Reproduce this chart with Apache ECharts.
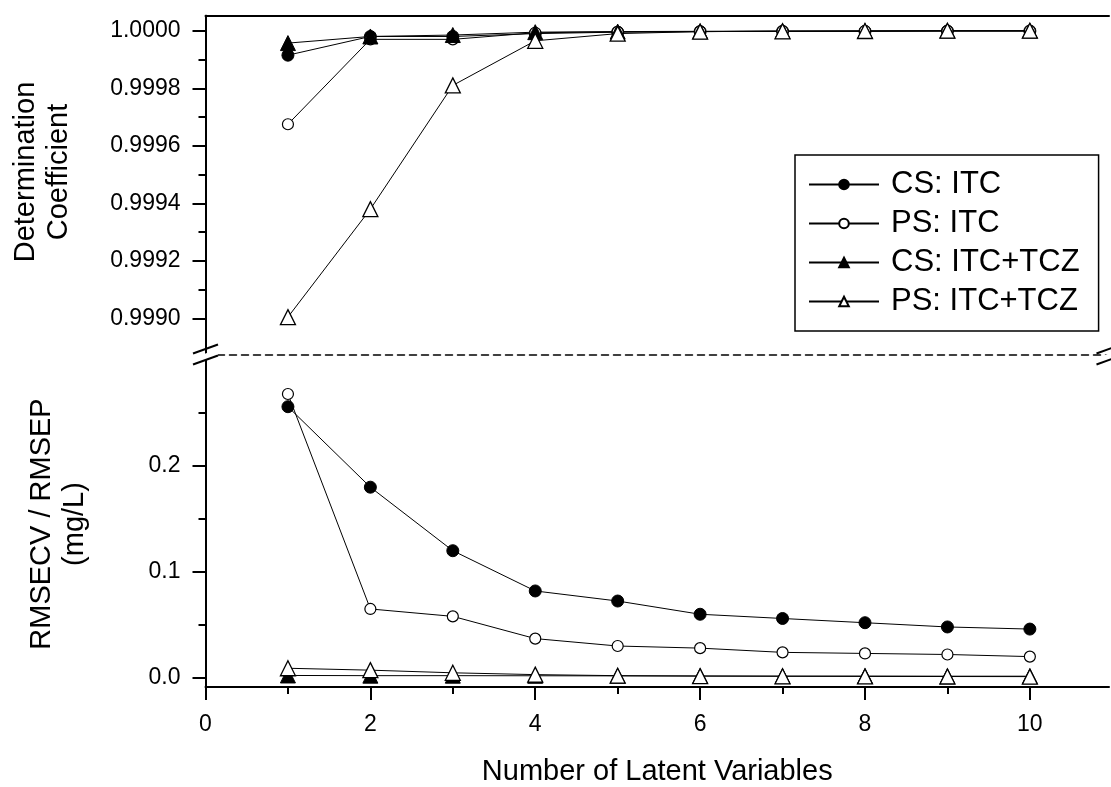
<!DOCTYPE html>
<html lang="en">
<head>
<meta charset="UTF-8">
<title>Latent variables</title>
<script src="https://cdn.jsdelivr.net/npm/echarts@6/dist/echarts.min.js"></script>
<style>
  html, body { margin: 0; padding: 0; background: #fff; }
  #main { width: 1111px; height: 787px; }
</style>
</head>
<body>
<div id="main"></div>
<script>
// number of latent variables
var latentVars = [1, 2, 3, 4, 5, 6, 7, 8, 9, 10];

// determination coefficient (top panel)
var r2CsItc    = [0.999915, 0.99998, 0.99998, 0.99999, 0.999995, 0.999997, 0.999998, 0.999998, 0.999999, 0.999999];
var r2PsItc    = [0.999675, 0.99997, 0.99997, 0.999993, 0.999996, 0.999997, 0.999998, 0.999999, 0.999999, 0.999999];
var r2CsItcTcz = [0.999957, 0.99998, 0.999985, 0.999995, 0.999997, 0.999998, 0.999999, 0.999999, 1.0, 1.0];
var r2PsItcTcz = [0.999005, 0.99938, 0.99981, 0.999965, 0.99999, 0.999997, 0.999998, 0.999999, 1.0, 1.0];

// RMSECV / RMSEP in mg/L (bottom panel)
var errCsItc    = [0.256, 0.180, 0.120, 0.082, 0.0725, 0.060, 0.056, 0.052, 0.048, 0.046];
var errPsItc    = [0.268, 0.065, 0.058, 0.037, 0.030, 0.028, 0.024, 0.023, 0.022, 0.020];
var errCsItcTcz = [0.0022, 0.0020, 0.0020, 0.0019, 0.0018, 0.0017, 0.0016, 0.0016, 0.0015, 0.0015];
var errPsItcTcz = [0.0090, 0.0072, 0.0047, 0.0030, 0.0020, 0.0016, 0.0014, 0.0013, 0.0012, 0.0011];

// ticks
var xMajor = [0, 2, 4, 6, 8, 10];
var xMinor = [1, 3, 5, 7, 9];
var r2Major = [0.9990, 0.9992, 0.9994, 0.9996, 0.9998, 1.0000];
var r2Minor = [0.9991, 0.9993, 0.9995, 0.9997, 0.9999];
var errMajor = [0.0, 0.1, 0.2];
var errMinor = [0.05, 0.15, 0.25];

var names = ['CS: ITC', 'PS: ITC', 'CS: ITC+TCZ', 'PS: ITC+TCZ'];

var FONT = "'Liberation Sans', Arial, sans-serif";
var L = 205.5, R = 1109, TOP = 15.7, MID = 354.5, BOT = 691;

function pairs(ys) {
  return latentVars.map(function (x, i) { return [x, ys[i]]; });
}

var markers = [
  { symbol: 'circle', symbolSize: 12, itemStyle: { color: '#000', borderColor: '#000', borderWidth: 1 } },
  { symbol: 'circle', symbolSize: 11, itemStyle: { color: '#fff', borderColor: '#000', borderWidth: 1.2 } },
  { symbol: 'triangle', symbolSize: 15, itemStyle: { color: '#000', borderColor: '#000', borderWidth: 1 } },
  { symbol: 'triangle', symbolSize: 15, itemStyle: { color: '#fff', borderColor: '#000', borderWidth: 1.3 } }
];

function makeSeries(name, idx, ys, xi, yi) {
  var m = markers[idx];
  return {
    name: name,
    type: 'line',
    xAxisIndex: xi,
    yAxisIndex: yi,
    data: pairs(ys),
    symbol: m.symbol,
    symbolSize: m.symbolSize,
    showAllSymbol: true,
    itemStyle: m.itemStyle,
    lineStyle: { color: '#000', width: 1 },
    emphasis: { disabled: true }
  };
}

var hidden = { show: false };
var solidLine = { show: true, lineStyle: { color: '#000', width: 2 } };
var tickFont = 23;

var option = {
  animation: false,
  backgroundColor: '#fff',
  textStyle: { fontFamily: FONT, color: '#000' },
  grid: [
    { left: L, right: 1111 - R, top: TOP, height: MID - TOP },
    { left: L, right: 1111 - R, top: MID, height: BOT - MID }
  ],
  xAxis: [
    // top panel: dashed bottom edge
    { gridIndex: 0, type: 'value', min: 0, max: 10.96, position: 'bottom',
      axisLine: { show: true, onZero: false, lineStyle: { color: '#000', width: 1.5, type: [7, 5] } },
      axisTick: hidden, axisLabel: hidden, splitLine: hidden },
    // top panel: top frame
    { gridIndex: 0, type: 'value', min: 0, max: 10.96, position: 'top',
      axisLine: { show: true, onZero: false, lineStyle: { color: '#000', width: 2 } },
      axisTick: hidden, axisLabel: hidden, splitLine: hidden },
    // bottom panel: main x axis
    { gridIndex: 1, type: 'value', min: 0, max: 10.96, position: 'bottom',
      name: 'Number of Latent Variables', nameLocation: 'middle', nameGap: 70,
      nameTextStyle: { fontSize: 29, fontFamily: FONT, color: '#000' },
      axisLine: { show: true, onZero: false, lineStyle: { color: '#000', width: 2 } },
      axisTick: { show: true, length: 13, lineStyle: { color: '#000', width: 2 }, customValues: xMajor },
      axisLabel: { show: true, margin: 26, fontSize: tickFont, fontFamily: FONT, color: '#000', customValues: xMajor },
      splitLine: hidden },
    { gridIndex: 1, type: 'value', min: 0, max: 10.96, position: 'bottom',
      axisLine: { show: false, onZero: false },
      axisTick: { show: true, length: 7, lineStyle: { color: '#000', width: 2 }, customValues: xMinor },
      axisLabel: hidden, splitLine: hidden }
  ],
  yAxis: [
    { gridIndex: 0, type: 'value', min: 0.998875, max: 1.0000522, position: 'left',
      axisLine: { show: true, onZero: false, lineStyle: { color: '#000', width: 2 } },
      axisTick: { show: true, length: 13, lineStyle: { color: '#000', width: 2 }, customValues: r2Major },
      axisLabel: { show: true, margin: 25, fontSize: tickFont, fontFamily: FONT, color: '#000', customValues: r2Major,
        formatter: function (v) { return Number(v).toFixed(4); } },
      splitLine: hidden },
    { gridIndex: 0, type: 'value', min: 0.998875, max: 1.0000522, position: 'left',
      axisLine: { show: false, onZero: false },
      axisTick: { show: true, length: 7, lineStyle: { color: '#000', width: 2 }, customValues: r2Minor },
      axisLabel: hidden, splitLine: hidden },
    { gridIndex: 0, type: 'value', min: 0.998875, max: 1.0000522, position: 'right',
      axisLine: solidLine, axisTick: hidden, axisLabel: hidden, splitLine: hidden },
    { gridIndex: 1, type: 'value', min: -0.0087, max: 0.3053, position: 'left',
      axisLine: { show: true, onZero: false, lineStyle: { color: '#000', width: 2 } },
      axisTick: { show: true, length: 13, lineStyle: { color: '#000', width: 2 }, customValues: errMajor },
      axisLabel: { show: true, margin: 25, fontSize: tickFont, fontFamily: FONT, color: '#000', customValues: errMajor,
        formatter: function (v) { return Number(v).toFixed(1); } },
      splitLine: hidden },
    { gridIndex: 1, type: 'value', min: -0.0087, max: 0.3053, position: 'left',
      axisLine: { show: false, onZero: false },
      axisTick: { show: true, length: 7, lineStyle: { color: '#000', width: 2 }, customValues: errMinor },
      axisLabel: hidden, splitLine: hidden },
    { gridIndex: 1, type: 'value', min: -0.0087, max: 0.3053, position: 'right',
      axisLine: solidLine, axisTick: hidden, axisLabel: hidden, splitLine: hidden }
  ],
  legend: {
    orient: 'vertical',
    left: 795,
    top: 155,
    data: names,
    itemWidth: 70,
    itemHeight: 12,
    itemGap: 8,
    padding: [14, 19, 14, 13],
    borderColor: '#000',
    borderWidth: 1.5,
    textStyle: { fontSize: 31, lineHeight: 30, fontFamily: FONT, color: '#000', padding: [0, 0, 0, 7] }
  },
  series: [
    makeSeries(names[0], 0, r2CsItc, 0, 0),
    makeSeries(names[1], 1, r2PsItc, 0, 0),
    makeSeries(names[2], 2, r2CsItcTcz, 0, 0),
    makeSeries(names[3], 3, r2PsItcTcz, 0, 0),
    makeSeries(names[0], 0, errCsItc, 2, 3),
    makeSeries(names[1], 1, errPsItc, 2, 3),
    makeSeries(names[2], 2, errCsItcTcz, 2, 3),
    makeSeries(names[3], 3, errPsItcTcz, 2, 3)
  ]
};

// axis titles and break marks
function breakMark(cx) {
  var hw = 12.5, rise = 4.5;
  return [
    { type: 'polygon', z: 100, silent: true,
      shape: { points: [[cx - hw, MID - 1 + rise], [cx + hw, MID - 1 - rise], [cx + hw, MID + 5.5 - rise], [cx - hw, MID + 5.5 + rise]] },
      style: { fill: '#fff', stroke: null } },
    { type: 'line', z: 101, silent: true,
      shape: { x1: cx - hw, y1: MID - 5.5 + rise, x2: cx + hw, y2: MID - 5.5 - rise },
      style: { stroke: '#000', lineWidth: 2 } },
    { type: 'line', z: 101, silent: true,
      shape: { x1: cx - hw, y1: MID + 5.5 + rise, x2: cx + hw, y2: MID + 5.5 - rise },
      style: { stroke: '#000', lineWidth: 2 } }
  ];
}

option.graphic = [
  { type: 'text', x: 42, y: 172, rotation: Math.PI / 2, silent: true,
    style: { text: 'Determination\nCoefficient', font: '29px ' + FONT, fill: '#000',
      align: 'center', verticalAlign: 'middle', lineHeight: 33 } },
  { type: 'text', x: 58, y: 524, rotation: Math.PI / 2, silent: true,
    style: { text: 'RMSECV / RMSEP\n(mg/L)', font: '29px ' + FONT, fill: '#000',
      align: 'center', verticalAlign: 'middle', lineHeight: 33 } }
].concat(breakMark(L)).concat(breakMark(R));

var myChart = echarts.init(document.getElementById('main'));
myChart.setOption(option);
</script>
</body>
</html>
